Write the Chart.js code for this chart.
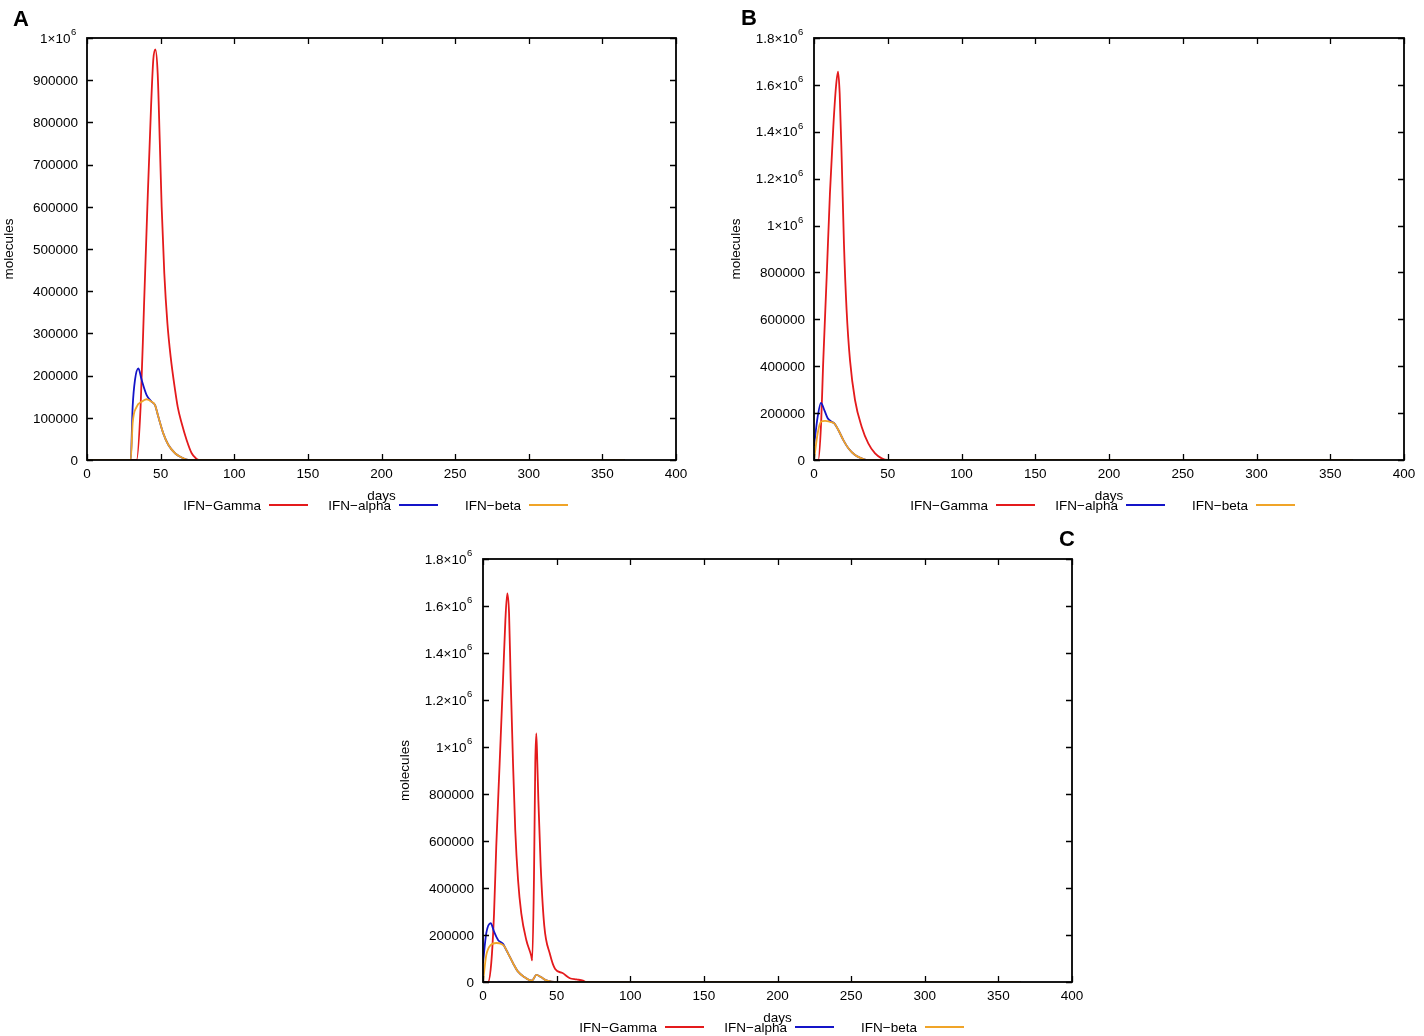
<!DOCTYPE html>
<html>
<head>
<meta charset="utf-8">
<script src="https://cdn.jsdelivr.net/npm/chart.js@4.4.0/dist/chart.umd.min.js"></script>
<style>
    body { margin: 0; background: #fff; width: 1424px; height: 1036px; position: relative; overflow: hidden; }
    canvas { position: absolute; }
</style>
</head>
<body>
<canvas id="chartA" width="712" height="520" style="left:0px;top:0px"></canvas>
<canvas id="chartB" width="712" height="520" style="left:712px;top:0px"></canvas>
<canvas id="chartC" width="712" height="516" style="left:400px;top:520px"></canvas>
<script>
// series names (legend)
const seriesNames = ["IFN\u2212Gamma", "IFN\u2212alpha", "IFN\u2212beta"];

// tick values
const dayTicks = [0, 50, 100, 150, 200, 250, 300, 350, 400];
const moleculeTicksA = [0, 100000, 200000, 300000, 400000, 500000, 600000, 700000, 800000, 900000, 1000000];
const moleculeTicksBC = [0, 200000, 400000, 600000, 800000, 1000000, 1200000, 1400000, 1600000, 1800000];

// panel A
const aGammaDays = [0, 33.7, 36.4, 38.7, 41.0, 43.5, 45.0, 46.4, 48.0, 49.4, 50.7, 52.5, 54.6, 56.8, 59.8, 61.6, 64.3, 67.7, 71.1, 74.0, 76, 365];
const aGamma = [0, 0, 126000, 363000, 600000, 837000, 948000, 973000, 916000, 758000, 600000, 442000, 324000, 245000, 166000, 126000, 87000, 47000, 16000, 4000, 0, 0];
const aAlphaDays = [0, 29.7, 31, 32.6, 34.9, 37.1, 40.5, 43.9, 46.2, 48.4, 51.8, 55.2, 59.8, 64.3, 67.7, 70, 365];
const aAlpha = [0, 0, 126000, 190000, 217000, 190000, 154000, 138000, 130000, 103000, 63000, 36000, 16000, 6000, 1000, 0, 0];
const aBetaDays = [0, 29.7, 31, 33.7, 37.1, 40.5, 43.9, 46.2, 48.4, 51.8, 55.2, 59.8, 64.3, 67.7, 70, 365];
const aBeta = [0, 0, 87000, 126000, 138000, 144000, 138000, 130000, 103000, 63000, 36000, 16000, 6000, 1000, 0, 0];

// panel B
const bGammaDays = [0, 2.9, 4.7, 6.3, 8.6, 10.8, 13.1, 14.9, 16.3, 17.4, 18.8, 20.3, 22.1, 24.4, 27.8, 32.3, 36.8, 41.4, 45.9, 50, 365];
const bGamma = [0, 0, 142000, 426000, 782000, 1137000, 1422000, 1592000, 1656000, 1564000, 1280000, 924000, 640000, 426000, 256000, 142000, 71000, 28000, 7000, 0, 0];
const bAlphaDays = [0, 2.5, 4.7, 7, 9.3, 12, 13.8, 16.5, 19.9, 23.3, 27.8, 32.3, 35.6, 365];
const bAlpha = [60000, 185000, 244000, 213000, 178000, 163000, 156000, 128000, 85000, 50000, 21000, 7000, 0, 0];
const bBetaDays = [0, 2.5, 4.7, 7.5, 10.8, 13.8, 16.5, 19.9, 23.3, 27.8, 32.3, 35.6, 365];
const bBeta = [0, 114000, 163000, 167000, 163000, 156000, 128000, 85000, 50000, 21000, 7000, 0, 0];

// panel C
const cGammaDays = [0, 3.4, 5.6, 7.5, 9, 11.3, 13.6, 15.2, 16.5, 17.7, 18.8, 20.4, 21.9, 23.8, 26, 29.4, 32.8, 33.4, 34.6, 35.5, 36.2, 36.9, 37.6, 39.2, 41.6, 45.4, 49, 54, 59, 63.5, 67.9, 70, 365];
const cGamma = [0, 0, 80000, 292000, 576000, 930000, 1285000, 1540000, 1654000, 1569000, 1285000, 930000, 647000, 434000, 292000, 179000, 110000, 92000, 434000, 930000, 1058000, 930000, 774000, 491000, 240000, 120000, 55000, 38000, 16000, 11000, 6000, 0, 0];
const cAlphaDays = [0, 2.2, 5.2, 7.5, 10.2, 13.6, 14.7, 17, 20.4, 23.8, 28.3, 32.8, 34, 36.2, 39.6, 43, 46.4, 50, 365];
const cAlpha = [80000, 207000, 250000, 214000, 179000, 162000, 150000, 122000, 80000, 44000, 20000, 6000, 10000, 30000, 20000, 7000, 2000, 0, 0];
const cBetaDays = [0, 2.2, 5.2, 9, 12.5, 14.7, 17, 20.4, 23.8, 28.3, 32.8, 34, 36.2, 39.6, 43, 46.4, 50, 365];
const cBeta = [0, 113000, 157000, 166000, 162000, 150000, 122000, 80000, 44000, 20000, 6000, 10000, 30000, 20000, 7000, 2000, 0, 0];

const FONT = '"Liberation Sans", Arial, sans-serif';
const colors = ["#e41a1c", "#1414c8", "#f0a428"];

function toPoints(days, values) {
    let pts = [];
    for(let i = 0; i < days.length; i++) {
        pts.push({ x: days[i], y: values[i] });
    }
    return pts;
}

// y labels like gnuplot: 1.2x10^6 with the 6 raised
function drawYLabel(ctx, v, right, y) {
    if(v < 1000000) {
        ctx.textAlign = "right";
        ctx.fillText(String(v), right, y);
        return;
    }
    let m = v / 1000000;
    let base = (Number.isInteger(m) ? String(m) : m.toFixed(1)) + "\u00d710";
    let left = right - ctx.measureText(base + "6").width;
    ctx.textAlign = "left";
    ctx.fillText(base, left, y);
    let bw = ctx.measureText(base).width;
    ctx.font = "9.5px " + FONT;
    ctx.fillText("6", left + bw + 0.5, y - 6.5);
    ctx.font = "13.5px " + FONT;
}

const gnuplotLook = {
    id: "gnuplotLook",
    afterDraw(chart, args, opts) {
        let ctx = chart.ctx;
        let a = chart.chartArea;
        let xs = chart.scales.x;
        let ys = chart.scales.y;
        ctx.save();

        // border
        ctx.strokeStyle = "#000";
        ctx.lineWidth = 1.8;
        ctx.strokeRect(a.left, a.top, a.right - a.left, a.bottom - a.top);

        // inward ticks, mirrored
        ctx.lineWidth = 1.3;
        ctx.beginPath();
        opts.xTicks.forEach(v => {
            let px = Math.round(xs.getPixelForValue(v)) + 0.5;
            ctx.moveTo(px, a.bottom); ctx.lineTo(px, a.bottom - 6);
            ctx.moveTo(px, a.top); ctx.lineTo(px, a.top + 6);
        });
        opts.yTicks.forEach(v => {
            let py = Math.round(ys.getPixelForValue(v)) + 0.5;
            ctx.moveTo(a.left, py); ctx.lineTo(a.left + 6, py);
            ctx.moveTo(a.right, py); ctx.lineTo(a.right - 6, py);
        });
        ctx.stroke();

        // tick labels
        ctx.fillStyle = "#000";
        ctx.font = "13.5px " + FONT;
        ctx.textBaseline = "middle";
        ctx.textAlign = "center";
        opts.xTicks.forEach(v => ctx.fillText(String(v), xs.getPixelForValue(v), a.bottom + 14));
        opts.yTicks.forEach(v => drawYLabel(ctx, v, a.left - 9, ys.getPixelForValue(v) + 1));

        // axis titles
        ctx.textAlign = "center";
        ctx.fillText("days", (a.left + a.right) / 2, a.bottom + 36);
        ctx.save();
        ctx.translate(a.left - 78, (a.top + a.bottom) / 2);
        ctx.rotate(-Math.PI / 2);
        ctx.fillText("molecules", 0, 0);
        ctx.restore();

        // key under the plot: text then line sample
        let ky = a.bottom + 45;
        chart.data.datasets.forEach((ds, i) => {
            let end = a.left + 174 + 130 * i;
            ctx.textAlign = "right";
            ctx.fillStyle = "#000";
            ctx.fillText(ds.label, end, ky + 1);
            ctx.strokeStyle = ds.borderColor;
            ctx.lineWidth = 1.8;
            ctx.beginPath();
            ctx.moveTo(end + 8, ky);
            ctx.lineTo(end + 47, ky);
            ctx.stroke();
        });

        // panel letter
        ctx.fillStyle = "#000";
        ctx.font = "bold 22px " + FONT;
        ctx.textAlign = "left";
        ctx.textBaseline = "alphabetic";
        ctx.fillText(opts.letter, opts.letterX, opts.letterY);
        ctx.restore();
    }
};

function makeChart(canvasId, padding, yMax, yTicks, series, letter) {
    let datasets = [];
    for(let i = 0; i < series.length; i++) {
        datasets.push({
            label: seriesNames[i],
            data: toPoints(series[i].days, series[i].values),
            borderColor: colors[i],
            backgroundColor: colors[i],
            borderWidth: 1.8,
            pointRadius: 0,
            cubicInterpolationMode: "monotone",
            fill: false,
            order: 2 - i
        });
    }

    return new Chart(document.getElementById(canvasId), {
        type: "line",
        data: { datasets: datasets },
        options: {
            responsive: false,
            animation: false,
            devicePixelRatio: 1,
            events: [],
            layout: { padding: padding },
            scales: {
                x: { type: "linear", min: 0, max: 400, display: false },
                y: { type: "linear", min: 0, max: yMax, display: false }
            },
            plugins: {
                legend: { display: false },
                tooltip: { enabled: false },
                gnuplotLook: Object.assign({ xTicks: dayTicks, yTicks: yTicks }, letter)
            }
        },
        plugins: [gnuplotLook]
    });
}

makeChart("chartA", { left: 87, top: 38, right: 36, bottom: 60 }, 1000000, moleculeTicksA, [
    { days: aGammaDays, values: aGamma },
    { days: aAlphaDays, values: aAlpha },
    { days: aBetaDays, values: aBeta }
], { letter: "A", letterX: 13, letterY: 26 });

makeChart("chartB", { left: 102, top: 38, right: 20, bottom: 60 }, 1800000, moleculeTicksBC, [
    { days: bGammaDays, values: bGamma },
    { days: bAlphaDays, values: bAlpha },
    { days: bBetaDays, values: bBeta }
], { letter: "B", letterX: 29, letterY: 25 });

makeChart("chartC", { left: 83, top: 39, right: 40, bottom: 54 }, 1800000, moleculeTicksBC, [
    { days: cGammaDays, values: cGamma },
    { days: cAlphaDays, values: cAlpha },
    { days: cBetaDays, values: cBeta }
], { letter: "C", letterX: 659, letterY: 26 });
</script>
</body>
</html>
